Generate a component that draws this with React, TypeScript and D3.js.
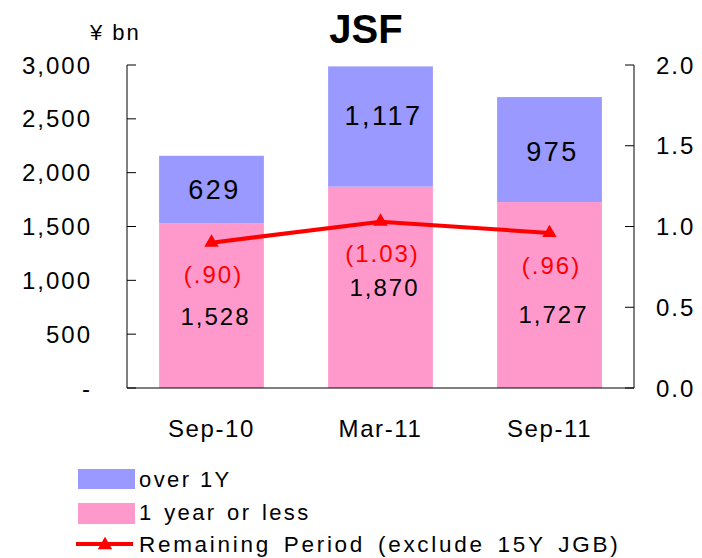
import React from "react";
import * as d3 from "d3";

const categories = ["Sep-10", "Mar-11", "Sep-11"];
const oneYearOrLess = [1528, 1870, 1727];
const over1Y = [629, 1117, 975];
const remainingPeriod = [0.9, 1.03, 0.96];
const remainingLabels = ["(.90)", "(1.03)", "(.96)"];
const leftTicks = [0, 500, 1000, 1500, 2000, 2500, 3000];
const leftTickLabels = ["-", "500", "1,000", "1,500", "2,000", "2,500", "3,000"];
const rightTicks = [0, 0.5, 1.0, 1.5, 2.0];
const rightTickLabels = ["0.0", "0.5", "1.0", "1.5", "2.0"];

// label nudges (px) to mimic the original manual placement
const pinkNudge = [11, 0, 19];
const blueNudge = [0, -11, 2];

const W = 702;
const H = 558;
const FONT = "'Liberation Sans', Arial, sans-serif";
const BLUE = "#9999FF";
const PINK = "#FF99CC";
const RED = "#FF0000";

export default function App() {
  const left = 127;
  const right = 634;
  const top = 65;
  const bottom = 388;

  const x = d3.scaleBand<string>().domain(categories).range([left, right]).paddingInner(0.38).paddingOuter(0.19);
  const y = d3.scaleLinear().domain([0, 3000]).range([bottom, top]);
  const y2 = d3.scaleLinear().domain([0, 2]).range([bottom, top]);

  const cx = (c: string) => (x(c) as number) + x.bandwidth() / 2;
  const line = d3
    .line<number>()
    .x((_, i) => cx(categories[i]))
    .y((d) => y2(d));

  const tri = d3.symbol().type(d3.symbolTriangle).size(90)();

  const tickLen = 9;
  const fmt = d3.format(",");

  return (
    <svg
      width={W}
      height={H}
      style={{ position: "absolute", left: 0, top: 0, background: "#fff" }}
      fontFamily={FONT}
    >
      <rect x={0} y={0} width={W} height={H} fill="#fff" />
      {/* Title */}
      <text x={366} y={43} textAnchor="middle" fontSize={40} fontWeight="bold" fill="#000">
        JSF
      </text>
      <text x={90} y={40} fontSize={22} letterSpacing={2} fill="#000">
        ¥ bn
      </text>

      {/* Bars */}
      {categories.map((c, i) => {
        const x0 = x(c) as number;
        const bw = x.bandwidth();
        return (
          <g key={c}>
            <rect x={x0} y={y(oneYearOrLess[i])} width={bw} height={y(0) - y(oneYearOrLess[i])} fill={PINK} />
            <rect
              x={x0}
              y={y(oneYearOrLess[i] + over1Y[i])}
              width={bw}
              height={y(oneYearOrLess[i]) - y(oneYearOrLess[i] + over1Y[i])}
              fill={BLUE}
            />
          </g>
        );
      })}

      {/* Axes */}
      <line x1={left} x2={left} y1={top} y2={bottom} stroke="#000" strokeWidth={1} />
      <line x1={right} x2={right} y1={top} y2={bottom} stroke="#000" strokeWidth={1} />
      <line x1={left} x2={right} y1={bottom} y2={bottom} stroke="#000" strokeWidth={1} />
      {leftTicks.map((t, i) => (
        <g key={"l" + t}>
          <line x1={left} x2={left + tickLen} y1={y(t)} y2={y(t)} stroke="#000" strokeWidth={1} />
          <text x={92} y={y(t)} dy="0.36em" textAnchor="end" fontSize={24} letterSpacing={2} fill="#000">
            {leftTickLabels[i]}
          </text>
        </g>
      ))}
      {rightTicks.map((t, i) => (
        <g key={"r" + t}>
          <line x1={right - tickLen} x2={right} y1={y2(t)} y2={y2(t)} stroke="#000" strokeWidth={1} />
          <text x={656} y={y2(t)} dy="0.36em" textAnchor="start" fontSize={24} letterSpacing={2} fill="#000">
            {rightTickLabels[i]}
          </text>
        </g>
      ))}
      {categories.map((c) => (
        <text key={"xl" + c} x={cx(c)} y={437} textAnchor="middle" fontSize={24} letterSpacing={1.6} fill="#000">
          {c}
        </text>
      ))}

      {/* Line */}
      <path d={line(remainingPeriod) as string} fill="none" stroke={RED} strokeWidth={4} />
      {remainingPeriod.map((v, i) => (
        <path key={"m" + i} d={tri as string} transform={`translate(${cx(categories[i])},${y2(v)})`} fill={RED} />
      ))}

      {/* Data labels */}
      {categories.map((c, i) => {
        const pinkMid = (y(0) + y(oneYearOrLess[i])) / 2 + pinkNudge[i];
        const blueMid = (y(oneYearOrLess[i]) + y(oneYearOrLess[i] + over1Y[i])) / 2 + blueNudge[i];
        return (
          <g key={"lab" + c}>
            <text x={cx(c) + 3} y={blueMid} dy="0.36em" textAnchor="middle" fontSize={27} letterSpacing={2.5} fill="#000">
              {fmt(over1Y[i])}
            </text>
            <text x={cx(c) + 4} y={pinkMid} dy="0.36em" textAnchor="middle" fontSize={24} letterSpacing={2} fill="#000">
              {fmt(oneYearOrLess[i])}
            </text>
            <text
              x={cx(c) + 2}
              y={y2(remainingPeriod[i]) + 32}
              dy="0.36em"
              textAnchor="middle"
              fontSize={24}
              letterSpacing={2}
              fill={RED}
            >
              {remainingLabels[i]}
            </text>
          </g>
        );
      })}

      {/* Legend */}
      <rect x={78} y={469} width={57} height={20} fill={BLUE} />
      <text x={139} y={487} fontSize={22} letterSpacing={2.4} fill="#000">
        over 1Y
      </text>
      <rect x={78} y={503} width={57} height={21} fill={PINK} />
      <text x={139} y={520} fontSize={22} letterSpacing={2.4} wordSpacing={2} fill="#000">
        1 year or less
      </text>
      <line x1={76} x2={133} y1={544} y2={544} stroke={RED} strokeWidth={4} />
      <path d={tri as string} transform="translate(105,545)" fill={RED} />
      <text x={139} y={552} fontSize={22.5} letterSpacing={2.7} wordSpacing={4} fill="#000">
        Remaining Period (exclude 15Y JGB)
      </text>
    </svg>
  );
}
